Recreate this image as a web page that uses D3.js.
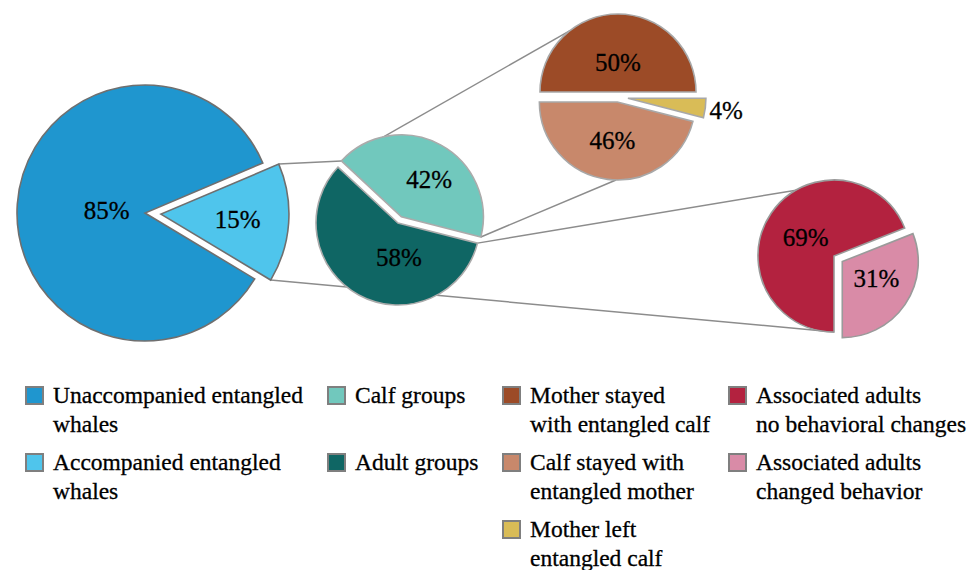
<!DOCTYPE html>
<html>
<head>
  <meta charset="utf-8" />
  <script src="https://d3js.org/d3.v7.min.js"></script>
  <style>
    body {
      margin: 0;
      background: #fff;
    }
    text {
      font-family: "Liberation Serif", "Tinos", "Times New Roman", "DejaVu Serif", serif;
      fill: #000;
      stroke: #000;
      stroke-width: 0.3px;
    }
    .connector {
      fill: none;
      stroke: #8c8c8c;
      stroke-width: 1.5px;
    }
  </style>
</head>
<body>
  <script>
    // data
    var mainLabels = [["Unaccompanied entangled", "whales"], ["Accompanied entangled", "whales"]];
    var mainValues = [85, 15];
    var mainColors = ["#1f96cf", "#4fc5ec"];

    var groupLabels = [["Calf groups"], ["Adult groups"]];
    var groupValues = [42, 58];
    var groupColors = ["#71c8bd", "#0f6664"];

    var calfLabels = [["Mother stayed", "with entangled calf"], ["Calf stayed with", "entangled mother"], ["Mother left", "entangled calf"]];
    var calfValues = [50, 46, 4];
    var calfColors = ["#9c4b27", "#c8886b", "#d9bc57"];

    var adultLabels = [["Associated adults", "no behavioral changes"], ["Associated adults", "changed behavior"]];
    var adultValues = [69, 31];
    var adultColors = ["#b3223f", "#d98ba7"];

    var deg = Math.PI / 180;

    // layout of each pie: centre, radius, rotation, exploded offsets, label radius / angle shift
    var pies = [
      { labels: mainLabels, values: mainValues, colors: mainColors, order: [0, 1],
        cx: 145, cy: 213, r: 128, start: 121, stroke: "#6f6f6f",
        explode: [0, 16], labelR: [0.3, 0.6], labelShift: [0, 0] },
      { labels: groupLabels, values: groupValues, colors: groupColors, order: [0, 1],
        cx: 398, cy: 223, r: 82, start: -47, stroke: "#ababab",
        explode: [7, 0], labelR: [0.57, 0.42], labelShift: [8, -30] },
      { labels: calfLabels, values: calfValues, colors: calfColors, order: [0, 2, 1],
        cx: 618, cy: 97, r: 78, start: -90, stroke: "#a8a8a8",
        explode: [5, 5, 10], labelR: [0.38, 0.5, 1.27], labelShift: [0, 0, 0] },
      { labels: adultLabels, values: adultValues, colors: adultColors, order: [0, 1],
        cx: 834, cy: 256, r: 76, start: 180, stroke: "#9a9a9a",
        explode: [0, 10], labelR: [0.45, 0.5], labelShift: [0, -8] }
    ];

    var svg = d3.select("body")
      .append("svg")
      .attr("width", 979)
      .attr("height", 570);

    var pieGen = d3.pie().sort(null).value(function(d) { return d.value; });

    pies.forEach(function(p) {
      var rows = p.order.map(function(i) {
        return { value: p.values[i], index: i };
      });
      pieGen.startAngle(p.start * deg).endAngle(p.start * deg + 2 * Math.PI);
      p.arcs = pieGen(rows);
      p.arcs.forEach(function(a) {
        var mid = (a.startAngle + a.endAngle) / 2;
        var e = p.explode[a.data.index];
        a.ox = p.cx + e * Math.sin(mid);
        a.oy = p.cy - e * Math.cos(mid);
        a.labelAngle = mid + p.labelShift[a.data.index] * deg;
      });
      p.byIndex = {};
      p.arcs.forEach(function(a) { p.byIndex[a.data.index] = a; });
    });

    // point on the rim of slice i of pie p, at angle (degrees) or at one of its edges
    function rim(p, i, angle) {
      var a = pies[p].byIndex[i];
      var t = angle === "start" ? a.startAngle : angle === "end" ? a.endAngle : angle * deg;
      return [a.ox + pies[p].r * Math.sin(t), a.oy - pies[p].r * Math.cos(t)];
    }

    // connector lines between the pies (drawn below the pies)
    var connectors = [
      [rim(0, 1, "start"), rim(1, 0, "start")],
      [rim(0, 1, "end"), rim(3, 0, "start")],
      [rim(1, 0, "start"), rim(2, 0, -38)],
      [rim(1, 0, "end"), rim(2, 1, 181)],
      [rim(1, 1, "start"), rim(3, 0, 330)]
    ];

    svg.append("g")
      .selectAll("line")
      .data(connectors)
      .enter()
      .append("line")
      .attr("class", "connector")
      .attr("x1", function(d) { return d[0][0]; })
      .attr("y1", function(d) { return d[0][1]; })
      .attr("x2", function(d) { return d[1][0]; })
      .attr("y2", function(d) { return d[1][1]; });

    pies.forEach(function(p) {
      var arc = d3.arc().innerRadius(0).outerRadius(p.r);
      var g = svg.append("g");

      g.selectAll("path")
        .data(p.arcs)
        .enter()
        .append("path")
        .attr("transform", function(a) { return "translate(" + a.ox + "," + a.oy + ")"; })
        .attr("d", arc)
        .style("fill", function(a) { return p.colors[a.data.index]; })
        .style("stroke", p.stroke)
        .style("stroke-width", "1.6px")
        .style("stroke-linejoin", "miter");

      g.selectAll("text")
        .data(p.arcs)
        .enter()
        .append("text")
        .attr("x", function(a) {
          return a.ox + p.labelR[a.data.index] * p.r * Math.sin(a.labelAngle);
        })
        .attr("y", function(a) {
          return a.oy - p.labelR[a.data.index] * p.r * Math.cos(a.labelAngle);
        })
        .attr("dy", "0.35em")
        .attr("text-anchor", "middle")
        .style("font-size", "25px")
        .text(function(a) { return a.data.value + "%"; });
    });

    // legend: one column per pie
    var legendX = [26, 328, 503, 729];
    var legendTop = 403, itemStep = 67, lineStep = 29;

    pies.forEach(function(p, c) {
      var col = svg.append("g")
        .attr("transform", "translate(" + legendX[c] + "," + legendTop + ")");

      var item = col.selectAll("g")
        .data(p.labels)
        .enter()
        .append("g")
        .attr("transform", function(d, i) { return "translate(0," + (i * itemStep) + ")"; });

      item.append("rect")
        .attr("x", 0)
        .attr("y", -16)
        .attr("width", 17)
        .attr("height", 17)
        .style("fill", function(d, i) { return p.colors[i]; })
        .style("stroke", "#7f7f7f")
        .style("stroke-width", "2px");

      item.append("text")
        .attr("x", 27)
        .style("font-size", "23.5px")
        .selectAll("tspan")
        .data(function(d) { return d; })
        .enter()
        .append("tspan")
        .attr("x", 27)
        .attr("y", function(d, j) { return j * lineStep; })
        .text(function(d) { return d; });
    });
  </script>
</body>
</html>
